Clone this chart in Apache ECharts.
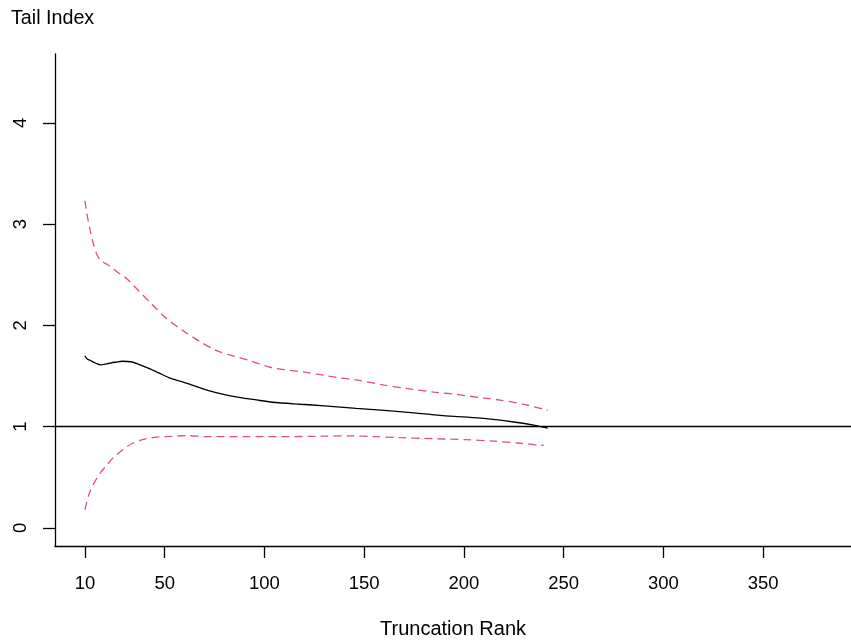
<!DOCTYPE html>
<html>
<head>
<meta charset="utf-8">
<script src="https://cdn.jsdelivr.net/npm/echarts@6/dist/echarts.min.js"></script>
<style>html,body{margin:0;padding:0;background:#fff}#c{width:851px;height:644px}</style>
</head>
<body>
<div id="c"></div>
<script>
// Estimated values
const estX = [10, 11, 12.5, 15, 18, 21, 25, 29, 33, 37, 42, 47, 53, 60, 66, 72, 80, 88, 95, 104, 118, 130, 146, 160, 175, 188, 200, 210, 225, 235, 242];
const estY = [1.70, 1.67, 1.655, 1.63, 1.61, 1.62, 1.635, 1.645, 1.64, 1.615, 1.575, 1.53, 1.475, 1.435, 1.395, 1.355, 1.315, 1.285, 1.265, 1.24, 1.22, 1.205, 1.18, 1.16, 1.135, 1.11, 1.095, 1.08, 1.045, 1.015, 0.985];

const upX = [10, 11, 12.5, 14, 16, 18, 22, 26, 31, 37, 43, 51, 59, 68, 76, 84, 92, 104, 121, 138, 146, 160, 171, 185, 196, 210, 218, 230, 242];
const upY = [3.23, 3.10, 2.95, 2.82, 2.70, 2.64, 2.59, 2.53, 2.46, 2.34, 2.22, 2.065, 1.95, 1.835, 1.75, 1.70, 1.655, 1.58, 1.535, 1.48, 1.46, 1.41, 1.377, 1.34, 1.318, 1.28, 1.262, 1.22, 1.16];

const loX = [10, 12, 14, 16, 18, 21, 24, 28, 31, 34, 38, 41, 46, 51, 61, 71, 90, 110, 130, 143, 155, 168, 185, 201, 215, 228, 240];
const loY = [0.18, 0.33, 0.42, 0.49, 0.55, 0.62, 0.69, 0.755, 0.80, 0.835, 0.865, 0.88, 0.895, 0.90, 0.91, 0.90, 0.90, 0.90, 0.905, 0.908, 0.90, 0.89, 0.88, 0.87, 0.855, 0.835, 0.813];

const xTicks = [10, 50, 100, 150, 200, 250, 300, 350];
const yTicks = [0, 1, 2, 3, 4];
const refLine = 1;

const zip = (a, b) => a.map((v, i) => [v, b[i]]);
const FONT = '"Liberation Sans", Arial, Helvetica, sans-serif';
const RED = '#DF536B';

const chart = echarts.init(document.getElementById('c'), null, {renderer: 'canvas'});
chart.setOption({
  animation: false,
  backgroundColor: '#ffffff',
  title: {
    text: 'Tail Index', left: 6, top: 4,
    textStyle: {fontFamily: FONT, fontSize: 19.7, fontWeight: 'normal', color: '#000'}
  },
  grid: {left: 55, right: 0, top: 54, bottom: 96, containLabel: false},
  xAxis: {
    type: 'value', min: -5, max: 394,
    name: 'Truncation Rank', nameLocation: 'middle', nameGap: 73,
    nameTextStyle: {fontFamily: FONT, fontSize: 20, color: '#000'},
    axisLine: {show: true, onZero: false, lineStyle: {color: '#000', width: 1.3}},
    axisTick: {show: true, length: 12, inside: false, customValues: xTicks, lineStyle: {color: '#000', width: 1.3}},
    axisLabel: {customValues: xTicks, margin: 28, fontFamily: FONT, fontSize: 18.5, color: '#000'},
    splitLine: {show: false}
  },
  yAxis: {
    type: 'value', min: -0.18, max: 4.68,
    axisLine: {show: true, onZero: false, lineStyle: {color: '#000', width: 1.3}},
    axisTick: {show: true, length: 12, inside: false, customValues: yTicks, lineStyle: {color: '#000', width: 1.3}},
    axisLabel: {customValues: yTicks, rotate: 90, margin: 25, fontFamily: FONT, fontSize: 18.5, color: '#000'},
    splitLine: {show: false}
  },
  series: [
    {
      type: 'line', data: zip(estX, estY), showSymbol: false, smooth: 0.3,
      lineStyle: {color: '#000', width: 1.3},
      markLine: {
        silent: true, symbol: ['none', 'none'], label: {show: false},
        lineStyle: {color: '#000', width: 1.3, type: 'solid'},
        data: [{yAxis: refLine}]
      }
    },
    {
      type: 'line', data: zip(upX, upY), showSymbol: false, smooth: 0.3,
      lineStyle: {color: RED, width: 1.3, type: [8, 5]}
    },
    {
      type: 'line', data: zip(loX, loY), showSymbol: false, smooth: 0.3,
      lineStyle: {color: RED, width: 1.3, type: [8, 5]}
    }
  ]
});
</script>
</body>
</html>
